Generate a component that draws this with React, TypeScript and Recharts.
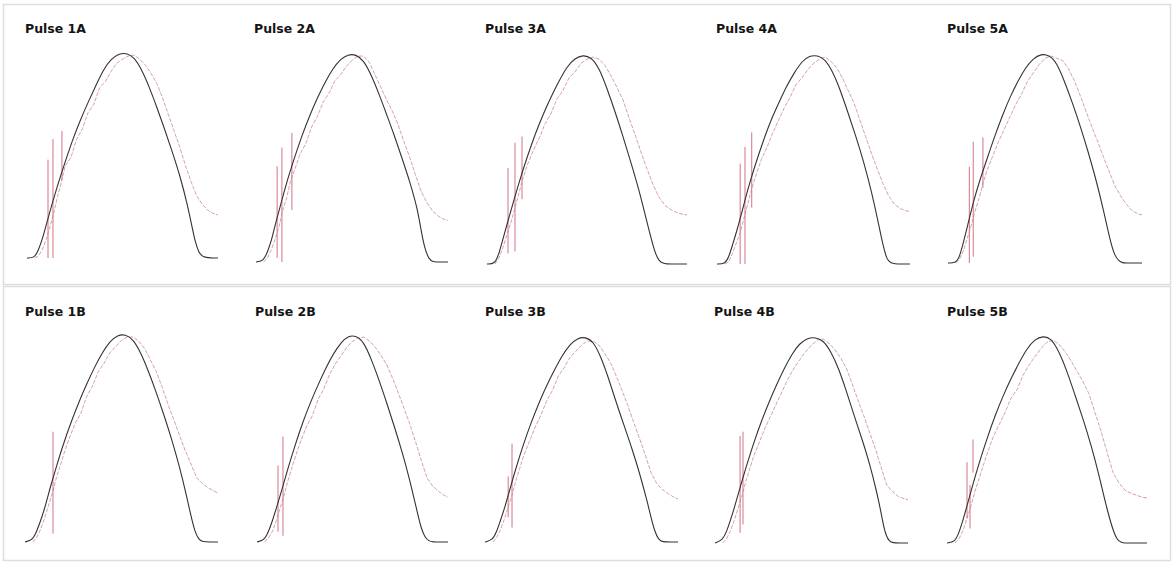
import React from 'react';
import { LineChart, Line, XAxis, YAxis } from 'recharts';

// Shared sample grids (normalised time 0..100)
const BLACK_T = [0, 4, 6, 8, 10, 13, 16, 20, 24, 28, 32, 36, 40, 44, 48, 52, 56, 60, 64, 68, 72, 76, 80, 84, 86, 88, 90, 92, 96, 100];
const PINK_T = [4, 6, 8, 10, 12, 14, 16, 18, 20, 23, 26, 29, 32, 35, 38, 41, 44, 47, 50, 53, 56, 59, 62, 65, 68, 71, 74, 77, 80, 83, 86, 89, 92, 95, 98, 100];

const PANEL_NAMES = ['Pulse 1A', 'Pulse 2A', 'Pulse 3A', 'Pulse 4A', 'Pulse 5A', 'Pulse 1B', 'Pulse 2B', 'Pulse 3B', 'Pulse 4B', 'Pulse 5B'];

// Black (reference) pulse, % of peak
const black1A = [0, 0, 4, 9, 16, 26, 35.5, 47, 58, 67.5, 76, 84, 92, 97, 99.6, 100, 98, 92, 83.5, 73.5, 63, 52, 40.5, 26, 17, 8, 2.5, 0.5, 0, 0];
const black2A = [0, 0.5, 5, 10, 18, 28, 38.5, 50, 61, 70.5, 79, 86.5, 93, 97.5, 99.8, 99.8, 97, 90, 81, 71, 61, 50, 39, 26, 15, 6, 1.5, 0, 0, 0];
const black3A = [0, 0, 5, 12, 19, 29, 39, 51, 62, 71.5, 80, 87.5, 94.5, 98.5, 100, 99, 94, 84, 73, 61, 48.5, 35.5, 20, 5, 1.5, 0.3, 0, 0, 0, 0];
const black4A = [0, 0, 3, 9, 15, 25, 36, 48, 59, 69, 77, 85, 91.5, 97, 99.7, 99.8, 98, 92, 83, 72, 61, 49, 35, 18, 9, 2, 0.5, 0, 0, 0];
const black5A = [0, 0, 3, 10, 17.5, 29, 38.5, 49.5, 60.5, 70.5, 79.5, 87, 93.5, 98, 100, 99.5, 96, 87, 77, 66, 54, 41, 26, 9, 3.5, 1, 0, 0, 0, 0];
const black1B = [0, 1, 5, 10, 15.5, 26, 35.5, 47.5, 58, 67.5, 76, 84, 91, 96.5, 99.5, 99.8, 97.5, 91, 82, 72, 61, 49.5, 36.5, 21, 12.5, 5, 1.2, 0, 0, 0];
const black2B = [0, 1, 5, 10, 16, 25, 35, 47, 58, 67.5, 76, 84, 91, 96.5, 99.7, 99.6, 96.5, 88, 78, 67, 55.5, 43.5, 30, 14, 6.5, 2, 0.5, 0, 0, 0];
const black3B = [0, 1, 5, 10.5, 16, 26, 36, 48, 58.5, 68, 76.5, 84, 91, 96.5, 99.5, 100, 98, 90.5, 80, 68, 57, 46, 34, 20, 12, 5, 1, 0, 0, 0];
const black4B = [0, 1.5, 5.5, 11, 17, 27, 36.5, 48.5, 59, 68.5, 77, 85, 92, 97, 99.6, 99.8, 98.5, 93, 85, 74, 62, 51, 39, 24, 15, 5, 1, 0, 0, 0];
const black5B = [0, 0.5, 5, 11, 18, 28.5, 38.5, 50.5, 61.5, 71, 79.5, 87, 94, 98.5, 100, 99, 92.5, 83, 71.5, 60, 47.5, 33, 16, 3, 0.8, 0, 0, 0, 0, 0];

// Pink (measured) pulse, % of peak
const pink1A = [0, 1, 4, 9, 15, 22, 30, 37, 45, 49, 58, 63, 71, 75, 83, 86, 91, 95, 97, 98.5, 99, 97, 94, 90, 85, 78, 70, 62, 54, 45, 37, 30, 26, 23, 21.5, 21];
const pink2A = [0, 2, 6, 11, 17, 25, 31, 39, 44, 52, 57, 65, 70, 77, 81, 87, 90, 94, 97, 99, 99, 96, 90, 84, 78, 72.5, 66, 58, 50.5, 42, 34, 28.5, 24.5, 22, 20.5, 20];
const pink3A = [0, 3, 8, 14, 20, 27, 34, 41, 47, 54, 60, 67, 72, 79, 83, 89, 92, 96, 98, 99, 98, 95, 90, 84.5, 78.5, 70, 62, 53.5, 45.5, 38, 32, 28, 26, 24.5, 23.8, 23.5];
const pink4A = [0, 1, 5, 10, 15, 22, 29, 36, 42, 50, 56, 63, 69, 75, 80, 86, 89, 93, 96, 98, 99, 97, 94, 89, 83, 77, 69, 61, 53, 45.5, 38.5, 32.5, 28.5, 26.5, 25.5, 25];
const pink5A = [0, 2, 6, 12, 18, 25, 31, 38, 44, 51, 58, 64, 70, 76, 81, 87, 91, 95, 98, 99, 98, 97, 93, 87.5, 80.5, 73, 65.5, 58.5, 51, 44, 37, 32, 28, 25, 23.5, 23];
const pink1B = [0, 2, 6, 11, 17, 23, 30, 36, 42, 50, 57, 62, 70, 75, 82, 86, 91, 94, 97, 98.5, 98.5, 96.5, 93, 87.5, 82, 74.5, 66.5, 59, 51.5, 44, 37.5, 30.8, 28, 26, 24.5, 23.5];
const pink2B = [0, 2, 5, 10, 16, 22, 29, 35, 41, 49, 56, 61, 69, 74, 81, 86, 90, 94, 97, 98.5, 99, 97, 94, 90, 85.5, 79, 72, 64.5, 57, 48.5, 39.5, 31, 27, 24.5, 22.5, 21.7];
const pink3B = [0, 2, 6, 11, 17, 23, 30, 36, 42, 49, 56, 62, 69, 74, 81, 85, 90, 93, 96, 98, 98, 96, 92, 87.5, 81, 74, 66.5, 58.5, 50.7, 42.5, 34, 28.5, 25.5, 23.5, 21.8, 21];
const pink4B = [0, 2, 6, 11, 17, 23, 30, 36, 42, 49, 56, 62, 68, 74, 80, 85, 89, 93, 96, 98.5, 99, 97, 94, 90, 85, 77.5, 69.5, 62, 54, 46, 37, 28, 25, 22.5, 21.5, 21];
const pink5B = [0, 2, 6, 12, 18, 25, 31, 37, 43, 51, 57, 63, 70, 74, 81, 86, 90, 94, 97, 98, 96, 92.5, 88, 83, 78, 72, 63, 54, 44, 34, 29, 25.5, 24, 23, 22, 21.8];

// Vertical artefact spikes: [t, low, high]
const spikes1A = [[11, 0, 48], [13.6, 0, 58], [18.3, 38, 62]];
const spikes2A = [[11, 2, 46], [13.5, 0, 55], [18.7, 25, 62]];
const spikes3A = [[10.5, 5, 46], [14, 6, 58], [17.5, 31, 61]];
const spikes4A = [[12, 0, 48], [14.5, 0, 56], [18, 27, 63]];
const spikes5A = [[11, 0, 46], [13, 3, 58], [18, 36, 60]];
const spikes1B = [[14.5, 4, 53]];
const spikes2B = [[11, 5, 37], [13.6, 3, 51]];
const spikes3B = [[12, 12, 32], [14, 7, 48]];
const spikes4B = [[13, 5, 52], [14.5, 9, 54]];
const spikes5B = [[10, 12, 39], [11.5, 7, 28], [13, 34, 50]];

const BLACKS = [black1A, black2A, black3A, black4A, black5A, black1B, black2B, black3B, black4B, black5B];
const PINKS = [pink1A, pink2A, pink3A, pink4A, pink5A, pink1B, pink2B, pink3B, pink4B, pink5B];
const SPIKES = [spikes1A, spikes2A, spikes3A, spikes4A, spikes5A, spikes1B, spikes2B, spikes3B, spikes4B, spikes5B];

// Panel placement (pixels)
const LAYOUT = [
  { x0: 27, x1: 218, top: 53, base: 258, tx: 25, ty: 33 },
  { x0: 256, x1: 448, top: 54, base: 262, tx: 254, ty: 33 },
  { x0: 487, x1: 687, top: 55, base: 264, tx: 485, ty: 33 },
  { x0: 717, x1: 910, top: 55, base: 264, tx: 716, ty: 33 },
  { x0: 948, x1: 1142, top: 54, base: 263, tx: 947, ty: 33 },
  { x0: 25, x1: 218, top: 334, base: 542, tx: 25, ty: 316 },
  { x0: 257, x1: 448, top: 335, base: 542, tx: 255, ty: 316 },
  { x0: 485, x1: 678, top: 337, base: 542, tx: 485, ty: 316 },
  { x0: 715, x1: 908, top: 337, base: 543, tx: 714, ty: 316 },
  { x0: 947, x1: 1147, top: 336, base: 543, tx: 947, ty: 316 },
];

const PAD = 6;

function Panel({ idx }: { idx: number }) {
  const L = LAYOUT[idx];
  const blackData = BLACK_T.map((t, i) => ({ t, v: BLACKS[idx][i] }));
  const pinkData = PINK_T.map((t, i) => ({ t, v: PINKS[idx][i] }));
  const spikeData: { t: number; v: number | null }[] = [];
  SPIKES[idx].forEach(([t, lo, hi]) => {
    spikeData.push({ t, v: lo });
    spikeData.push({ t, v: hi });
    spikeData.push({ t, v: null });
  });
  const w = L.x1 - L.x0 + PAD * 2;
  const h = L.base - L.top + PAD * 2;
  return (
    <div style={{ position: 'absolute', left: L.x0 - PAD, top: L.top - PAD }}>
      <LineChart width={w} height={h} margin={{ top: PAD, right: PAD, bottom: PAD, left: PAD }}>
        <XAxis type="number" dataKey="t" domain={[0, 100]} hide />
        <YAxis type="number" domain={[0, 100]} hide />
        <Line data={pinkData} dataKey="v" type="linear" stroke="#d6a0ac" strokeWidth={1} strokeDasharray="4 1.5" dot={false} isAnimationActive={false} />
        <Line data={spikeData} dataKey="v" type="linear" stroke="#d27484" strokeWidth={1} connectNulls={false} dot={false} isAnimationActive={false} />
        <Line data={blackData} dataKey="v" type="basis" stroke="#333333" strokeWidth={1.1} dot={false} isAnimationActive={false} />
      </LineChart>
    </div>
  );
}

export default function App() {
  return (
    <div style={{ position: 'absolute', left: 0, top: 0, width: 1176, height: 565, background: '#ffffff' }}>
      <svg width={1176} height={565} style={{ position: 'absolute', left: 0, top: 0 }}>
        <rect x={3.5} y={4.5} width={1167} height={280} fill="none" stroke="#dddddd" strokeWidth={1.5} />
        <rect x={3.5} y={286.5} width={1167} height={274} fill="none" stroke="#dddddd" strokeWidth={1.5} />
        {PANEL_NAMES.map((name, i) => (
          <text key={name} x={LAYOUT[i].tx} y={LAYOUT[i].ty} fontFamily="DejaVu Sans, Verdana, sans-serif" fontWeight="bold" fontSize={12.5} fill="#151515">
            {name}
          </text>
        ))}
      </svg>
      {PANEL_NAMES.map((name, i) => (
        <Panel key={name} idx={i} />
      ))}
    </div>
  );
}
